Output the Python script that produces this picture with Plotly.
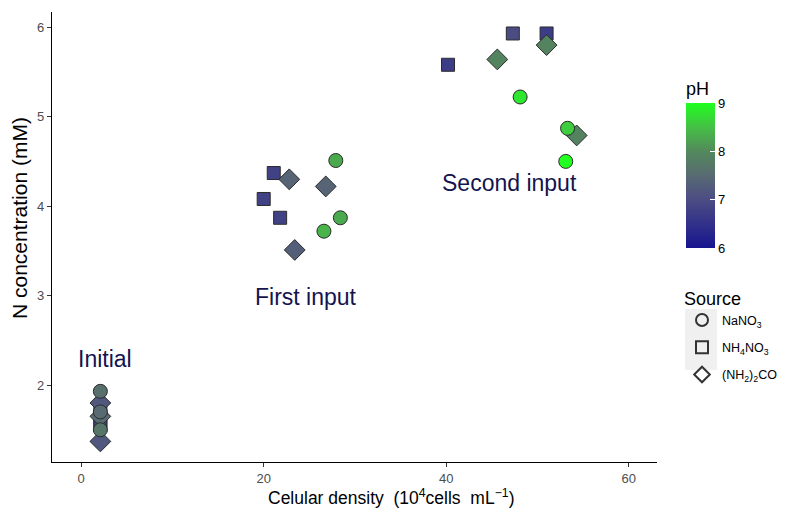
import plotly.graph_objects as go

# Initial
init_circ_x = [2.1, 2.1, 2.1]
init_circ_y = [1.93, 1.50, 1.70]
init_circ_ph = [7.6, 7.7, 7.5]
init_sq_x = [2.1, 2.1, 2.1]
init_sq_y = [1.55, 1.60, 1.75]
init_sq_ph = [6.6, 6.8, 7.0]
init_dia_x = [2.1, 2.1, 2.1]
init_dia_y = [1.80, 1.65, 1.37]
init_dia_ph = [7.2, 7.5, 7.2]

# First input
first_circ_x = [27.9, 28.4, 26.6]
first_circ_y = [4.51, 3.87, 3.72]
first_circ_ph = [8.3, 8.3, 8.4]
first_sq_x = [21.1, 20.0, 21.8]
first_sq_y = [4.37, 4.08, 3.87]
first_sq_ph = [6.8, 6.8, 6.8]
first_dia_x = [22.8, 26.8, 23.4]
first_dia_y = [4.30, 4.22, 3.51]
first_dia_ph = [7.4, 7.4, 7.3]

# Second input
second_circ_x = [48.1, 53.3, 53.1]
second_circ_y = [5.22, 4.87, 4.50]
second_circ_ph = [8.8, 8.6, 9.0]
second_sq_x = [40.2, 47.3, 51.0]
second_sq_y = [5.58, 5.93, 5.93]
second_sq_ph = [6.7, 7.0, 6.7]
second_dia_x = [45.6, 51.0, 54.3]
second_dia_y = [5.64, 5.80, 4.79]
second_dia_ph = [7.9, 7.9, 7.9]

x_ticks = [0, 20, 40, 60]
y_ticks = [2, 3, 4, 5, 6]
ph_ticks = [6, 7, 8, 9]

source_names = ["NaNO<sub>3</sub>", "NH<sub>4</sub>NO<sub>3</sub>", "(NH<sub>2</sub>)<sub>2</sub>CO"]
symbols = ["circle", "square", "diamond"]
sizes = [14, 13, 16]

colorscale = [
    [0.0, "#17158f"],
    [0.333, "#4c4c84"],
    [0.5, "#586a72"],
    [0.667, "#53895c"],
    [0.833, "#45c045"],
    [1.0, "#20ff20"],
]

fig = go.Figure()

groups = [
    ("square", 13, init_sq_x + first_sq_x + second_sq_x, init_sq_y + first_sq_y + second_sq_y, init_sq_ph + first_sq_ph + second_sq_ph),
    ("diamond", 16, init_dia_x + first_dia_x + second_dia_x, init_dia_y + first_dia_y + second_dia_y, init_dia_ph + first_dia_ph + second_dia_ph),
    ("circle", 14, init_circ_x + first_circ_x + second_circ_x, init_circ_y + first_circ_y + second_circ_y, init_circ_ph + first_circ_ph + second_circ_ph),
]
for sym, sz, xs, ys, phs in groups:
    fig.add_trace(go.Scatter(
        x=xs, y=ys, mode="markers", showlegend=False,
        marker=dict(symbol=sym, size=sz, color=phs, coloraxis="coloraxis",
                    line=dict(color="#2b2b2b", width=1)),
    ))

for i, (name, sym, sz) in enumerate(zip(source_names, symbols, sizes)):
    fig.add_trace(go.Scatter(
        x=[None], y=[None], mode="markers", name=name, legendgroup="g%d" % i,
        marker=dict(symbol=sym, size=sz - 1, color="rgba(0,0,0,0)",
                    line=dict(color="#333333", width=1)),
    ))

fig.add_shape(type="rect", xref="paper", yref="paper",
              x0=(685 - 52) / 605, x1=(717 - 52) / 605,
              y0=(462 - 370) / 450, y1=(462 - 309) / 450,
              fillcolor="#f0f0f0", line=dict(width=0), layer="below")

ann_font = dict(size=23, color="#14144f")
fig.add_annotation(x=2.6, y=2.29, text="Initial", showarrow=False, font=ann_font)
fig.add_annotation(x=24.6, y=2.98, text="First input", showarrow=False, font=ann_font)
fig.add_annotation(x=46.9, y=4.26, text="Second input", showarrow=False, font=ann_font)

# axis titles
fig.add_annotation(xref="paper", yref="paper", x=(391 - 52) / 605, y=(462 - 497) / 450,
                   xanchor="center", yanchor="middle", showarrow=False,
                   text="Celular density  (10<sup>4</sup>cells  mL<sup>−1</sup>)",
                   font=dict(size=17.5, color="#000000"))
fig.add_annotation(xref="paper", yref="paper", x=(20 - 52) / 605, y=(462 - 218) / 450,
                   xanchor="center", yanchor="middle", showarrow=False, textangle=-90,
                   text="N concentration (mM)",
                   font=dict(size=21, color="#000000"))

fig.update_layout(
    width=790, height=513,
    margin=dict(l=52, r=133, t=12, b=51, autoexpand=False),
    paper_bgcolor="white", plot_bgcolor="white",
    font=dict(family="Liberation Sans, Arial, sans-serif", color="#000000"),
    coloraxis=dict(
        cmin=6, cmax=9, colorscale=colorscale,
        colorbar=dict(
            title=dict(text="pH", side="top", font=dict(size=18)),
            tickvals=ph_ticks, ticks="inside", tickcolor="white", ticklen=5,
            tickfont=dict(size=13, color="#000000"),
            thickness=29, len=170, lenmode="pixels",
            x=(686 - 52) / 605, xanchor="left", xpad=0,
            y=(462 - 248) / 450, yanchor="bottom", ypad=0,
            outlinewidth=0,
        ),
    ),
    legend=dict(
        title=dict(text="Source", font=dict(size=18)),
        x=(682 - 52) / 605, xanchor="left", y=(462 - 282) / 450, yanchor="top",
        font=dict(size=12.5), bgcolor="rgba(0,0,0,0)",
        tracegroupgap=8, itemsizing="constant",
    ),
    xaxis=dict(
        range=[-3.2, 63.1], tickvals=x_ticks, showgrid=False, zeroline=False,
        showline=True, linecolor="black", linewidth=1.2,
        ticks="outside", ticklen=4, tickcolor="#333333",
        tickfont=dict(size=13, color="#4d4d4d"),
    ),
    yaxis=dict(
        range=[1.14, 6.17], tickvals=y_ticks, showgrid=False, zeroline=False,
        showline=True, linecolor="black", linewidth=1.2,
        ticks="outside", ticklen=4, tickcolor="#333333",
        tickfont=dict(size=13, color="#4d4d4d"),
    ),
)

fig.write_html("out.html")
